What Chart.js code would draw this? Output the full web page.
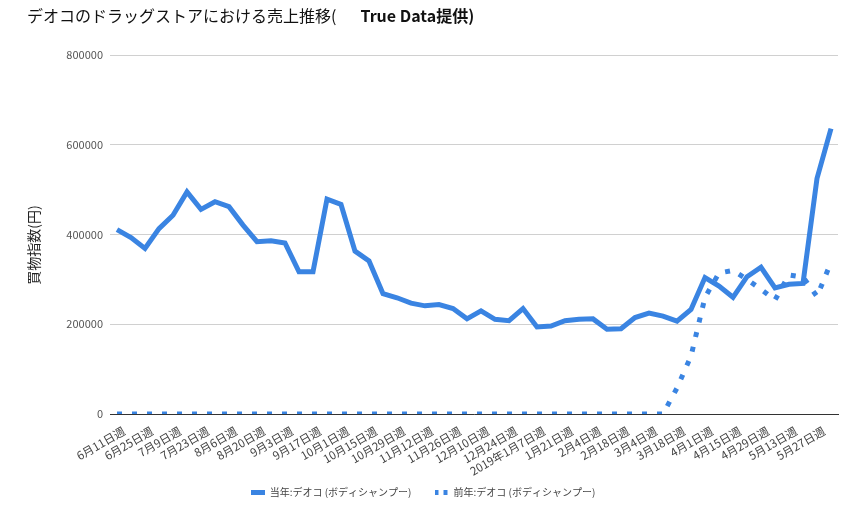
<!DOCTYPE html>
<html>
<head>
<meta charset="utf-8">
<script src="https://cdn.jsdelivr.net/npm/chart.js@4/dist/chart.umd.min.js"></script>
<style>
  html, body { margin: 0; padding: 0; background: #fff; }
  #wrap { position: relative; width: 852px; height: 510px; }
  #title { position: absolute; left: 27px; top: 5px; font: 16px/20px 'Noto Sans CJK JP', sans-serif; color: #111; white-space: pre; }
  #title b { font-weight: 700; }
</style>
</head>
<body>
<div id="wrap">
  <canvas id="chart" width="852" height="510"></canvas>
  <div id="title">デオコのドラッグストアにおける売上推移(&#x3000;&#x2002;<b>True Data提供)</b></div>
</div>
<script>
const weeks = [
    '6月11日週', '6月18日週', '6月25日週', '7月2日週', '7月9日週', '7月16日週', '7月23日週', '7月30日週',
    '8月6日週', '8月13日週', '8月20日週', '8月27日週', '9月3日週', '9月10日週', '9月17日週', '9月24日週',
    '10月1日週', '10月8日週', '10月15日週', '10月22日週', '10月29日週', '11月5日週', '11月12日週', '11月19日週',
    '11月26日週', '12月3日週', '12月10日週', '12月17日週', '12月24日週', '12月31日週', '2019年1月7日週', '1月14日週',
    '1月21日週', '1月28日週', '2月4日週', '2月11日週', '2月18日週', '2月25日週', '3月4日週', '3月11日週',
    '3月18日週', '3月25日週', '4月1日週', '4月8日週', '4月15日週', '4月22日週', '4月29日週', '5月6日週',
    '5月13日週', '5月20日週', '5月27日週', '6月3日週'
];

const thisYear = [
    411000, 393000, 369000, 413000, 443000, 495000, 456000, 473000,
    462000, 421000, 384000, 386000, 381000, 317000, 317000, 479000,
    467000, 363000, 341000, 268000, 259000, 247000, 241000, 244000,
    235000, 212000, 230000, 211000, 208000, 235000, 194000, 196000,
    208000, 211000, 212000, 189000, 190000, 215000, 225000, 218000,
    207000, 233000, 304000, 285000, 260000, 306000, 327000, 281000,
    289000, 291000, 525000, 636000
];

const lastYear = [
    0, 0, 0, 0, 0, 0, 0, 0,
    0, 0, 0, 0, 0, 0, 0, 0,
    0, 0, 0, 0, 0, 0, 0, 0,
    0, 0, 0, 0, 0, 0, 0, 0,
    0, 0, 0, 0, 0, 0, 0, 0,
    58000, 129000, 260000, 314000, 320000, 300000, 278000, 254000,
    310000, 305000, 262000, 338000
];

const seriesNames = ['当年:デオコ (ボディシャンプー)', '前年:デオコ (ボディシャンプー)'];
const yTicks = [0, 200000, 400000, 600000, 800000];
const yTitle = '買物指数(円)';

const BLUE = '#3a84e2';

function makeMarker(dotted) {
    const c = document.createElement('canvas');
    c.width = 14;
    c.height = 5;
    const g = c.getContext('2d');
    g.fillStyle = BLUE;
    if (dotted) {
        g.fillRect(0, 0, 4, 5);
        g.fillRect(9, 0, 4, 5);
    } else {
        g.fillRect(0, 0, 14, 5);
    }
    return c;
}

const markers = [makeMarker(false), makeMarker(true)];

Chart.defaults.font.family = "'Noto Sans CJK JP', sans-serif";

new Chart(document.getElementById('chart').getContext('2d'), {
    type: 'line',
    data: {
        labels: weeks,
        datasets: [
            {
                label: seriesNames[0],
                data: thisYear,
                borderColor: BLUE,
                borderWidth: 5,
                pointRadius: 0,
                tension: 0,
                fill: false
            },
            {
                label: seriesNames[1],
                data: lastYear,
                borderColor: BLUE,
                borderWidth: 5,
                borderDash: [5, 10],
                pointRadius: 0,
                tension: 0,
                fill: false
            }
        ]
    },
    options: {
        responsive: false,
        animation: false,
        layout: { padding: { top: 55, right: 14, left: 8, bottom: 3 } },
        plugins: {
            tooltip: { enabled: false },
            legend: {
                position: 'bottom',
                labels: {
                    usePointStyle: true,
                    pointStyleWidth: 14,
                    padding: 8,
                    color: '#444',
                    font: { size: 10 },
                    // wider gap between the two items than the vertical padding allows
                    generateLabels: (chart) => chart.data.datasets.map((ds, i) => ({
                        text: i === 0 ? ds.label + '\u3000\u2002' : ds.label,
                        pointStyle: markers[i],
                        fontColor: '#444',
                        datasetIndex: i,
                        hidden: false,
                        lineWidth: 0
                    }))
                }
            }
        },
        scales: {
            x: {
                offset: true,
                afterFit: (scale) => { scale.height = 65; },
                grid: { display: false, drawTicks: false },
                border: { display: true, color: '#333', width: 1 },
                ticks: {
                    autoSkip: false,
                    minRotation: 30,
                    maxRotation: 30,
                    padding: 10,
                    labelOffset: 7,
                    color: '#444',
                    font: { size: 11.5 },
                    callback: (v, i) => (i % 2 === 0 ? weeks[i] : '')
                }
            },
            y: {
                min: yTicks[0],
                max: yTicks[yTicks.length - 1],
                afterBuildTicks: (scale) => { scale.ticks = yTicks.map(v => ({ value: v })); },
                afterFit: (scale) => { scale.width = 102; },
                grid: { color: '#d0d0d0', drawTicks: false },
                border: { display: false },
                ticks: {
                    padding: 7,
                    color: '#555',
                    font: { size: 11 },
                    callback: (v) => String(v)
                },
                title: {
                    display: true,
                    text: yTitle + '\u3000\u2002',
                    color: '#222',
                    font: { size: 14 },
                    padding: { top: 17, bottom: 0 }
                }
            }
        }
    }
});
</script>
</body>
</html>
